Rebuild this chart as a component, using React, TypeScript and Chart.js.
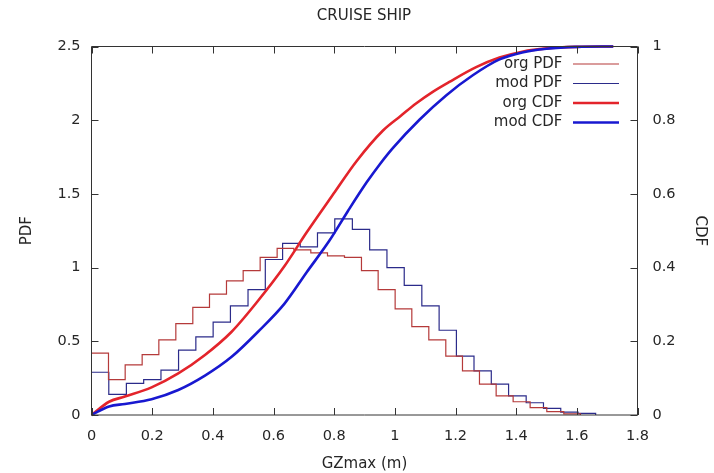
import React, { useEffect, useRef } from "react";
import { Chart, registerables } from "chart.js";

Chart.register(...registerables);

// ---- data ----
const orgEdges = [0, 0.056, 0.111, 0.167, 0.222, 0.278, 0.334, 0.389, 0.445, 0.5, 0.556, 0.612, 0.667, 0.723, 0.778, 0.834, 0.89, 0.945, 1.001, 1.056, 1.112, 1.168, 1.223, 1.279, 1.334, 1.39, 1.446, 1.501, 1.557, 1.612];
const orgPdf = [0.42, 0.24, 0.34, 0.41, 0.51, 0.62, 0.73, 0.82, 0.91, 0.98, 1.07, 1.13, 1.12, 1.1, 1.08, 1.07, 0.98, 0.85, 0.72, 0.6, 0.51, 0.4, 0.3, 0.21, 0.13, 0.09, 0.05, 0.023, 0.008];

const modEdges = [0, 0.057, 0.115, 0.172, 0.229, 0.287, 0.344, 0.401, 0.458, 0.516, 0.573, 0.63, 0.688, 0.745, 0.802, 0.86, 0.917, 0.974, 1.031, 1.089, 1.146, 1.203, 1.261, 1.318, 1.375, 1.433, 1.49, 1.547, 1.604, 1.662];
const modPdf = [0.29, 0.14, 0.215, 0.24, 0.305, 0.44, 0.53, 0.63, 0.74, 0.85, 1.055, 1.165, 1.14, 1.235, 1.33, 1.26, 1.12, 1.0, 0.88, 0.74, 0.575, 0.4, 0.3, 0.21, 0.13, 0.083, 0.045, 0.02, 0.011];

const orgCdfX = [0, 0.058, 0.11, 0.198, 0.286, 0.374, 0.462, 0.549, 0.637, 0.709, 0.802, 0.873, 0.961, 1.02, 1.071, 1.125, 1.18, 1.268, 1.345, 1.42, 1.5, 1.6, 1.72];
const orgCdfY = [0, 0.036, 0.05, 0.075, 0.113, 0.163, 0.226, 0.31, 0.405, 0.495, 0.605, 0.688, 0.772, 0.812, 0.846, 0.877, 0.904, 0.944, 0.97, 0.986, 0.995, 0.999, 1.0];

const modCdfX = [0, 0.058, 0.11, 0.198, 0.286, 0.374, 0.462, 0.549, 0.637, 0.71, 0.785, 0.845, 0.906, 0.95, 0.994, 1.082, 1.17, 1.257, 1.345, 1.42, 1.5, 1.6, 1.72];
const modCdfY = [0, 0.023, 0.03, 0.043, 0.068, 0.107, 0.158, 0.226, 0.303, 0.388, 0.474, 0.553, 0.63, 0.68, 0.725, 0.802, 0.868, 0.922, 0.965, 0.984, 0.994, 0.999, 1.0];

const xTicks = [0, 0.2, 0.4, 0.6, 0.8, 1, 1.2, 1.4, 1.6, 1.8];
const pdfTicks = [0, 0.5, 1, 1.5, 2, 2.5];
const cdfTicks = [0, 0.2, 0.4, 0.6, 0.8, 1];

const seriesNames = ["org PDF", "mod PDF", "org CDF", "mod CDF"];
const seriesColors = ["#b53a3a", "#2b2b8a", "#e3242b", "#1818d0"];
const seriesWidths = [1.2, 1.2, 2.6, 2.6];

const FONT = "'DejaVu Sans', sans-serif";
const TEXT = "#262626";

function histPoints(edges: number[], vals: number[]) {
  const pts = vals.map((v, i) => ({ x: edges[i], y: v }));
  pts.push({ x: edges[vals.length], y: 0 });
  return pts;
}

const framePlugin = {
  id: "gnuplotFrame",
  afterDraw(chart: any) {
    const { ctx, chartArea: a, scales } = chart;
    ctx.save();
    ctx.strokeStyle = "#333";
    ctx.lineWidth = 1;
    ctx.beginPath();
    ctx.rect(a.left, a.top, a.right - a.left, a.bottom - a.top);
    const tl = 7;
    xTicks.forEach((v) => {
      const px = Math.round(scales.x.getPixelForValue(v)) + 0.5;
      ctx.moveTo(px, a.bottom);
      ctx.lineTo(px, a.bottom - tl);
      ctx.moveTo(px, a.top);
      ctx.lineTo(px, a.top + tl);
    });
    pdfTicks.forEach((v) => {
      const py = Math.round(scales.y.getPixelForValue(v)) + 0.5;
      ctx.moveTo(a.left, py);
      ctx.lineTo(a.left + tl, py);
    });
    cdfTicks.forEach((v) => {
      const py = Math.round(scales.y2.getPixelForValue(v)) + 0.5;
      ctx.moveTo(a.right, py);
      ctx.lineTo(a.right - tl, py);
    });
    ctx.stroke();

    // key (gnuplot style, top right)
    const rows = [64, 83.5, 103, 122.5];
    ctx.font = `15px ${FONT}`;
    ctx.fillStyle = TEXT;
    ctx.textAlign = "right";
    ctx.textBaseline = "middle";
    seriesNames.forEach((name, i) => {
      ctx.fillText(name, 562.5, rows[i]);
      ctx.beginPath();
      ctx.strokeStyle = seriesColors[i];
      ctx.lineWidth = seriesWidths[i];
      ctx.moveTo(573, rows[i]);
      ctx.lineTo(619, rows[i]);
      ctx.stroke();
    });
    ctx.restore();
  },
};

export default function App() {
  const ref = useRef<HTMLCanvasElement | null>(null);

  useEffect(() => {
    if (!ref.current) return;
    Chart.defaults.font.family = FONT;
    const tickFont = { family: FONT, size: 14.5 };
    const titleFont = { family: FONT, size: 15 };
    const chart = new Chart(ref.current, {
      type: "line",
      data: {
        datasets: [
          {
            label: seriesNames[0],
            data: histPoints(orgEdges, orgPdf),
            borderColor: seriesColors[0],
            borderWidth: seriesWidths[0],
            stepped: "before",
            pointRadius: 0,
            fill: false,
            yAxisID: "y",
            order: 2,
            clip: false as any,
          },
          {
            label: seriesNames[1],
            data: histPoints(modEdges, modPdf),
            borderColor: seriesColors[1],
            borderWidth: seriesWidths[1],
            stepped: "before",
            pointRadius: 0,
            fill: false,
            yAxisID: "y",
            order: 3,
            clip: false as any,
          },
          {
            label: seriesNames[2],
            data: orgCdfX.map((x, i) => ({ x, y: orgCdfY[i] })),
            borderColor: seriesColors[2],
            borderWidth: seriesWidths[2],
            cubicInterpolationMode: "monotone",
            pointRadius: 0,
            fill: false,
            yAxisID: "y2",
            order: 1,
            clip: false as any,
          },
          {
            label: seriesNames[3],
            data: modCdfX.map((x, i) => ({ x, y: modCdfY[i] })),
            borderColor: seriesColors[3],
            borderWidth: seriesWidths[3],
            cubicInterpolationMode: "monotone",
            pointRadius: 0,
            fill: false,
            yAxisID: "y2",
            order: 0,
            clip: false as any,
          },
        ],
      },
      options: {
        animation: false,
        responsive: false,
        events: [],
        layout: { padding: { left: 14, right: 0, top: 0, bottom: 0 } },
        plugins: {
          legend: { display: false },
          tooltip: { enabled: false },
          title: {
            display: true,
            text: "CRUISE SHIP",
            color: TEXT,
            font: { family: FONT, size: 15, weight: "normal" },
            padding: { top: 7, bottom: 21.5 },
          },
        },
        scales: {
          x: {
            type: "linear",
            min: 0,
            max: 1.8,
            afterBuildTicks: (s: any) => {
              s.ticks = xTicks.map((v) => ({ value: v }));
            },
            afterFit: (s: any) => {
              s.height = 58;
            },
            grid: { display: false, drawTicks: false },
            border: { display: false },
            ticks: {
              color: TEXT,
              font: tickFont,
              padding: 12.8,
              maxRotation: 0,
              autoSkip: false,
              callback: (v: any) => String(v),
            },
            title: {
              display: true,
              text: "GZmax (m)",
              color: TEXT,
              font: titleFont,
              padding: { top: 0, bottom: 0 },
            },
          },
          y: {
            type: "linear",
            position: "left",
            min: 0,
            max: 2.5,
            afterBuildTicks: (s: any) => {
              s.ticks = pdfTicks.map((v) => ({ value: v }));
            },
            afterFit: (s: any) => {
              s.width = 77.5;
            },
            grid: { display: false, drawTicks: false },
            border: { display: false },
            ticks: {
              color: TEXT,
              font: tickFont,
              padding: 11,
              autoSkip: false,
              callback: (v: any) => String(v),
            },
            title: {
              display: true,
              text: "PDF",
              color: TEXT,
              font: titleFont,
              padding: { top: 4, bottom: 0 },
            },
          },
          y2: {
            type: "linear",
            position: "right",
            min: 0,
            max: 1,
            afterBuildTicks: (s: any) => {
              s.ticks = cdfTicks.map((v) => ({ value: v }));
            },
            afterFit: (s: any) => {
              s.width = 76.5;
            },
            grid: { display: false, drawTicks: false },
            border: { display: false },
            ticks: {
              color: TEXT,
              font: tickFont,
              padding: 15,
              autoSkip: false,
              callback: (v: any) => String(v),
            },
            title: {
              display: true,
              text: "CDF",
              color: TEXT,
              font: titleFont,
              padding: { top: 5, bottom: 0 },
            },
          },
        },
      } as any,
      plugins: [framePlugin],
    });
    return () => chart.destroy();
  }, []);

  return (
    <div
      style={{
        position: "fixed",
        left: 0,
        top: 0,
        width: 714,
        height: 473,
        background: "#fff",
      }}
    >
      <canvas ref={ref} width={714} height={473} />
    </div>
  );
}
